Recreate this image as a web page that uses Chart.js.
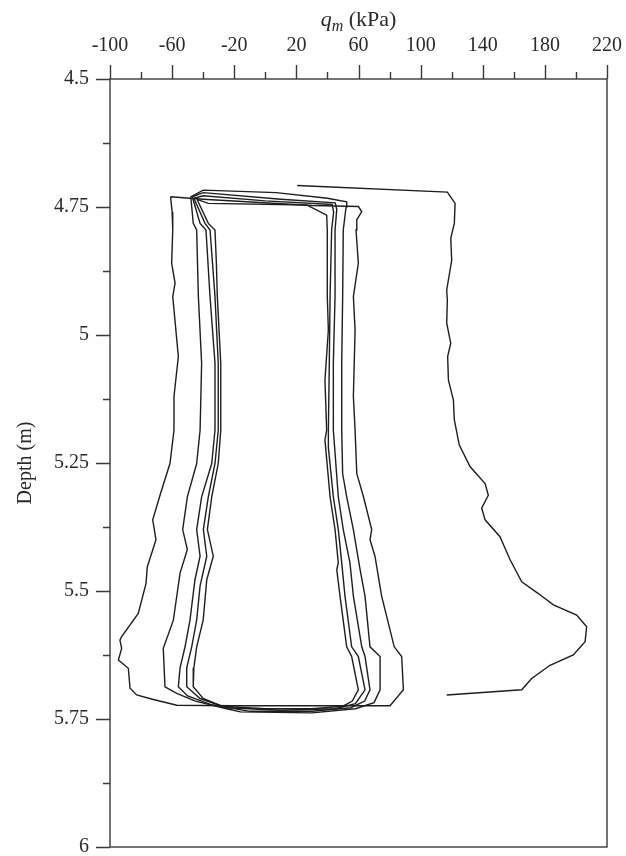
<!DOCTYPE html>
<html>
<head>
<meta charset="utf-8">
<script src="https://cdn.jsdelivr.net/npm/chart.js@4.4.1/dist/chart.umd.min.js"></script>
<style>
  html, body { margin: 0; padding: 0; background: #fff; }
  #wrap { width: 626px; height: 856px; position: relative; }
</style>
</head>
<body>
<div id="wrap"><canvas id="c"></canvas></div>
<script>
// Axis tick labels
const xTickValues = [-100, -60, -20, 20, 60, 100, 140, 180, 220];
const yTickValues = [4.5, 4.75, 5, 5.25, 5.5, 5.75, 6];

// First loading profile (open curve)
const firstQ = [20.6, 117.2, 122.2, 121.7, 119.4, 120.0, 116.8, 117.2, 116.8, 119.4, 117.4, 117.9, 121.1, 121.7, 124.9, 131.8, 141.5, 143.6, 139.3, 141.5, 151.1, 157.6, 165.1, 175.8, 185.5, 200.5, 206.9, 205.9, 198.3, 183.3, 171.5, 165.1, 116.8];
const firstDepth = [4.708, 4.721, 4.743, 4.782, 4.811, 4.854, 4.912, 4.932, 4.977, 5.016, 5.042, 5.088, 5.127, 5.166, 5.215, 5.257, 5.29, 5.313, 5.338, 5.361, 5.394, 5.439, 5.482, 5.505, 5.527, 5.547, 5.57, 5.599, 5.625, 5.645, 5.671, 5.693, 5.703];

// Cycle 1 (outermost loop)
const loop1Q = [-61, -60, -59.6, -60.3, -58.1, -59.6, -56, -58.8, -58.8, -61.4, -67.4, -72.5, -70.4, -76, -76.8, -81.8, -92.5, -93.6, -92.5, -94.6, -88.2, -87.1, -82.8, -72.1, -57, -20, 30, 80.3, 88.9, 87.8, 83, 74.9, 70.6, 67.4, 68.5, 63.2, 58.9, 57.8, 56.7, 57.8, 56.7, 59.9, 58.4, 58.9, 62.1, 59.9, 30, -40, -61];
const loop1Depth = [4.73, 4.76, 4.795, 4.86, 4.899, 4.925, 5.042, 5.12, 5.186, 5.251, 5.309, 5.361, 5.4, 5.453, 5.485, 5.544, 5.589, 5.596, 5.612, 5.635, 5.651, 5.69, 5.703, 5.712, 5.723, 5.724, 5.724, 5.724, 5.693, 5.628, 5.609, 5.51, 5.432, 5.4, 5.38, 5.316, 5.271, 5.186, 5.12, 4.99, 4.925, 4.86, 4.795, 4.775, 4.759, 4.749, 4.747, 4.735, 4.73];

// Cycle 2
const loop2Q = [-48, -46.4, -44.2, -43.1, -41, -42, -44.2, -50.2, -53.2, -50.2, -54.9, -59.2, -65.7, -64.6, -57, -45, -25, -16, 30, 58, 70, 73.9, 73.9, 67.4, 64.2, 61, 57.8, 56.7, 52.4, 49.8, 49.2, 49.2, 49.8, 50.2, 52, 52.4, 40, 7, -40, -48];
const loop2Depth = [4.73, 4.782, 4.795, 4.925, 5.055, 5.186, 5.251, 5.316, 5.38, 5.419, 5.465, 5.557, 5.612, 5.687, 5.70, 5.715, 5.73, 5.736, 5.738, 5.73, 5.718, 5.693, 5.628, 5.609, 5.51, 5.458, 5.4, 5.38, 5.316, 5.271, 5.186, 5.055, 4.925, 4.795, 4.75, 4.74, 4.733, 4.722, 4.717, 4.73];

// Cycle 3
const loop3Q = [-47, -42, -38.2, -35.6, -32.4, -32.4, -34.5, -41, -44.2, -42, -45.3, -48.5, -51.7, -54.9, -56, -50, -35, -10, 30, 55, 64, 67.4, 64.2, 62.1, 56.7, 54.5, 50.2, 47, 43.8, 43.8, 44.9, 44.9, 46, 45, 10, -40, -47];
const loop3Depth = [4.73, 4.782, 4.795, 4.925, 5.055, 5.186, 5.251, 5.316, 5.38, 5.432, 5.478, 5.557, 5.609, 5.65, 5.687, 5.705, 5.722, 5.735, 5.735, 5.728, 5.715, 5.693, 5.628, 5.609, 5.51, 5.445, 5.38, 5.316, 5.186, 5.055, 4.925, 4.795, 4.755, 4.742, 4.735, 4.722, 4.73];

// Cycle 4
const loop4Q = [-46, -38.8, -35.6, -32.4, -30.3, -30.3, -32.4, -36.7, -39.9, -37.7, -42, -44.2, -47.4, -50.6, -50.6, -42, -25, 10, 45, 58, 64.2, 59.9, 55.6, 51.3, 49.2, 47, 43.8, 40.6, 40.6, 41.2, 41.7, 42.7, 44, 43, 0, -40, -46];
const loop4Depth = [4.733, 4.782, 4.795, 4.925, 5.055, 5.186, 5.251, 5.316, 5.38, 5.432, 5.49, 5.557, 5.609, 5.65, 5.687, 5.71, 5.728, 5.733, 5.73, 5.72, 5.693, 5.628, 5.609, 5.51, 5.445, 5.38, 5.316, 5.22, 5.186, 5.055, 4.925, 4.795, 4.76, 4.745, 4.738, 4.728, 4.733];

// Cycle 5 (innermost loop)
const loop5Q = [-44, -36.7, -32.4, -31.5, -30.9, -28.7, -28.7, -30.3, -34.5, -37.3, -33.5, -37.7, -40, -44.2, -46, -46.4, -40, -28, 0, 30, 50, 56, 59.9, 55.6, 52.4, 48.1, 46, 47, 44.9, 41.7, 38.4, 39.5, 38.4, 40.6, 39.9, 39.9, 39.5, 26.6, -36.7, -44];
const loop5Depth = [4.735, 4.782, 4.795, 4.86, 4.925, 5.055, 5.186, 5.251, 5.316, 5.38, 5.432, 5.478, 5.557, 5.609, 5.65, 5.687, 5.71, 5.725, 5.73, 5.73, 5.725, 5.715, 5.693, 5.628, 5.609, 5.51, 5.458, 5.445, 5.38, 5.316, 5.205, 5.186, 5.088, 4.99, 4.925, 4.795, 4.766, 4.746, 4.743, 4.735];

const curves = [
  [firstQ, firstDepth],
  [loop1Q, loop1Depth],
  [loop2Q, loop2Depth],
  [loop3Q, loop3Depth],
  [loop4Q, loop4Depth],
  [loop5Q, loop5Depth]
];

const datasets = curves.map(([q, d]) => ({
  data: q.map((v, i) => ({ x: v, y: d[i] })),
  showLine: true,
  borderColor: '#1e1e1e',
  borderWidth: 1.4,
  pointRadius: 0,
  fill: false,
  tension: 0
}));

const SERIF = '"Liberation Serif", "Times New Roman", serif';
const INK = '#2a2a2a';

// Frame, tick marks (major labelled, minor halfway between) and the top axis title
const framePlugin = {
  id: 'frame',
  afterDraw(chart) {
    const { ctx, chartArea: a, scales } = chart;
    const xs = scales.x, ys = scales.y;
    ctx.save();
    ctx.strokeStyle = '#3a3a3a';
    ctx.lineWidth = 1.4;
    ctx.strokeRect(a.left, a.top, a.right - a.left, a.bottom - a.top);

    ctx.beginPath();
    xTickValues.forEach((v, i) => {
      const px = Math.round(xs.getPixelForValue(v)) + 0.5;
      ctx.moveTo(px, a.top); ctx.lineTo(px, a.top - 14);
      if (i < xTickValues.length - 1) {
        const m = Math.round(xs.getPixelForValue((v + xTickValues[i + 1]) / 2)) + 0.5;
        ctx.moveTo(m, a.top); ctx.lineTo(m, a.top - 7);
      }
    });
    yTickValues.forEach((v, i) => {
      const py = Math.round(ys.getPixelForValue(v)) + 0.5;
      ctx.moveTo(a.left, py); ctx.lineTo(a.left - 14, py);
      if (i < yTickValues.length - 1) {
        const m = Math.round(ys.getPixelForValue((v + yTickValues[i + 1]) / 2)) + 0.5;
        ctx.moveTo(a.left, m); ctx.lineTo(a.left - 7, m);
      }
    });
    ctx.stroke();

    // q_m (kPa)
    ctx.fillStyle = INK;
    ctx.textBaseline = 'alphabetic';
    const f1 = 'italic 22px ' + SERIF, f2 = 'italic 16px ' + SERIF, f3 = '22px ' + SERIF;
    ctx.font = f1; const w1 = ctx.measureText('q').width;
    ctx.font = f2; const w2 = ctx.measureText('m').width;
    ctx.font = f3; const w3 = ctx.measureText(' (kPa)').width;
    const cx = (a.left + a.right) / 2;
    let x0 = cx - (w1 + w2 + w3) / 2;
    const base = 26;
    ctx.font = f1; ctx.fillText('q', x0, base); x0 += w1;
    ctx.font = f2; ctx.fillText('m', x0, base + 5); x0 += w2;
    ctx.font = f3; ctx.fillText(' (kPa)', x0, base);
    ctx.restore();
  }
};

new Chart(document.getElementById('c'), {
  type: 'scatter',
  data: { datasets },
  options: {
    responsive: true,
    maintainAspectRatio: false,
    animation: false,
    events: [],
    layout: { padding: { left: 0, right: 19, top: 0, bottom: 9 } },
    plugins: { legend: { display: false }, tooltip: { enabled: false } },
    scales: {
      x: {
        type: 'linear',
        position: 'top',
        min: -100,
        max: 220,
        afterBuildTicks: s => { s.ticks = xTickValues.map(v => ({ value: v })); },
        afterFit: s => { s.height = 79; s.paddingLeft = 0; s.paddingRight = 0; },
        grid: { display: false, drawTicks: false },
        border: { display: false },
        ticks: {
          autoSkip: false,
          maxRotation: 0,
          padding: 21,
          color: INK,
          font: { family: SERIF, size: 20 },
          callback: v => String(v)
        }
      },
      y: {
        type: 'linear',
        reverse: true,
        min: 4.5,
        max: 6,
        afterBuildTicks: s => { s.ticks = yTickValues.map(v => ({ value: v })); },
        afterFit: s => { s.width = 110; s.paddingTop = 0; s.paddingBottom = 0; },
        grid: { display: false, drawTicks: false },
        border: { display: false },
        ticks: {
          autoSkip: false,
          padding: 21,
          color: INK,
          font: { family: SERIF, size: 20 },
          callback: v => String(v)
        },
        title: {
          display: true,
          text: 'Depth (m)',
          color: INK,
          font: { family: SERIF, size: 20 },
          padding: { top: 14, bottom: 0 }
        }
      }
    }
  },
  plugins: [framePlugin]
});
</script>
</body>
</html>
